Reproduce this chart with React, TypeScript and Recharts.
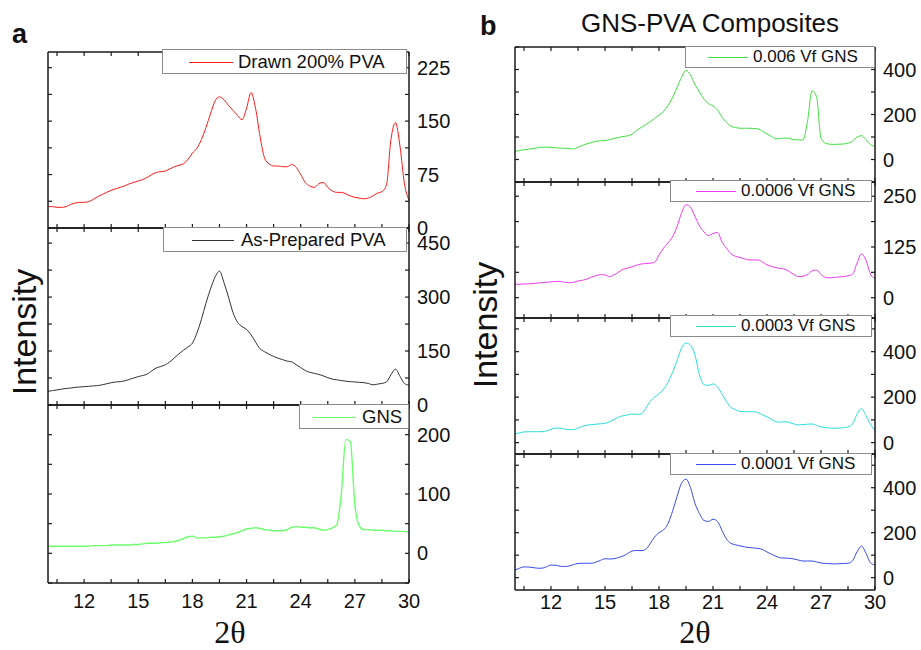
import React from 'react';
import { LineChart, Line, XAxis, YAxis, Legend } from 'recharts';

const FONT = '"Liberation Sans", Arial, Helvetica, sans-serif';
const SERIF = '"Liberation Serif", "Times New Roman", serif';

// 2θ sampling grid (degrees)
const twoTheta = [
  10, 10.25, 10.5, 10.75, 11, 11.25, 11.5, 11.75, 12, 12.25,
  12.5, 12.75, 13, 13.25, 13.5, 13.75, 14, 14.25, 14.5, 14.75,
  15, 15.25, 15.5, 15.75, 16, 16.25, 16.5, 16.75, 17, 17.25,
  17.5, 17.75, 18, 18.25, 18.5, 18.75, 19, 19.25, 19.5, 19.75,
  20, 20.25, 20.5, 20.75, 21, 21.25, 21.5, 21.75, 22, 22.25,
  22.5, 22.75, 23, 23.25, 23.5, 23.75, 24, 24.25, 24.5, 24.75,
  25, 25.25, 25.5, 25.75, 26, 26.25, 26.5, 26.75, 27, 27.25,
  27.5, 27.75, 28, 28.25, 28.5, 28.75, 29, 29.25, 29.5, 29.75,
  30,
];

// Panel a series
const drawn200 = [
  30, 30, 29, 29, 30, 33, 35, 36, 36, 37,
  40, 44, 47, 50, 53, 55, 57, 59, 62, 64,
  66, 68, 71, 75, 78, 79, 80, 83, 86, 88,
  90, 96, 105, 112, 124, 141, 160, 178, 184, 180,
  172, 165, 158, 152, 168, 190, 168, 128, 98, 90,
  87, 87, 86, 86, 89, 85, 75, 64, 59, 57,
  62, 64, 57, 52, 50, 50, 48, 45, 43, 42,
  41, 42, 45, 49, 51, 60, 124, 148, 115, 62,
  39,
];
const asPrepared = [
  38, 40, 42, 44, 46, 47, 49, 50, 51, 52,
  53, 54, 56, 59, 62, 64, 65, 67, 71, 75,
  79, 82, 86, 95, 103, 107, 112, 120, 131, 142,
  152, 161, 172, 200, 238, 283, 322, 355, 372, 340,
  300, 257, 230, 218, 210, 195, 175, 156, 148, 141,
  135, 130, 126, 122, 120, 112, 104, 96, 91, 88,
  85, 81, 76, 72, 70, 68, 66, 65, 64, 63,
  62, 60, 56, 58, 60, 64, 84, 100, 80, 60,
  55,
];
const gns = [
  12, 12, 12, 12, 12, 12, 12, 12, 12, 12,
  13, 13, 13, 13, 14, 14, 14, 14, 14, 15,
  15, 16, 17, 17, 17, 18, 18, 19, 20, 22,
  25, 28, 29, 26, 26, 26, 27, 27, 28, 29,
  31, 33, 35, 38, 41, 42, 43, 42, 40, 39,
  38, 38, 38, 40, 44, 45, 44, 44, 43, 43,
  41, 39, 40, 43, 48, 100, 192, 188, 82, 46,
  40, 40, 39, 39, 39, 38, 38, 37, 37, 37,
  35,
];

// Panel b series
const vf0006 = [
  36, 40, 43, 46, 49, 52, 55, 55, 54, 52,
  51, 50, 49, 47, 54, 63, 70, 76, 81, 83,
  84, 88, 93, 98, 102, 105, 112, 129, 142, 155,
  167, 182, 197, 214, 240, 274, 320, 365, 396, 375,
  333, 300, 268, 248, 238, 220, 188, 165, 148, 142,
  139, 139, 139, 138, 136, 125, 114, 102, 92, 93,
  96, 93, 88, 87, 87, 170, 305, 280, 95, 72,
  68, 67, 68, 69, 72, 82, 100, 106, 88, 66,
  59,
];
const vf00006 = [
  33, 33, 34, 34, 35, 36, 37, 38, 39, 40,
  40, 38, 37, 38, 41, 43, 46, 51, 54, 57,
  56, 52, 56, 63, 70, 73, 76, 80, 83, 84,
  85, 87, 105, 122, 135, 150, 175, 208, 229, 223,
  200, 177, 162, 153, 158, 161, 137, 122, 108, 102,
  99, 96, 93, 93, 93, 88, 81, 77, 74, 72,
  70, 64, 57, 52, 53, 57, 66, 68, 57, 50,
  49, 50, 51, 52, 54, 58, 85, 108, 92, 58,
  47,
];
const vf00003 = [
  38, 43, 47, 48, 48, 48, 48, 52, 58, 64,
  64, 60, 57, 57, 64, 72, 77, 79, 81, 83,
  85, 92, 102, 112, 118, 122, 126, 124, 125, 150,
  180, 200, 215, 235, 265, 308, 360, 415, 438, 428,
  385, 298, 255, 252, 258, 245, 213, 180, 155, 145,
  137, 136, 136, 136, 132, 122, 113, 102, 92, 90,
  92, 88, 82, 78, 79, 81, 82, 76, 69, 66,
  64, 63, 64, 66, 69, 82, 125, 150, 118, 80,
  52,
];
const vf00001 = [
  34, 42, 48, 47, 45, 42, 42, 48, 56, 55,
  51, 49, 52, 58, 63, 64, 64, 64, 69, 77,
  84, 83, 84, 90, 96, 107, 118, 121, 120, 125,
  150, 180, 200, 212, 240, 295, 360, 420, 438, 400,
  330, 285, 254, 250, 260, 250, 210, 172, 152, 146,
  141, 137, 134, 132, 130, 125, 114, 104, 95, 88,
  87, 86, 83, 78, 74, 74, 74, 70, 65, 63,
  62, 61, 62, 63, 64, 75, 115, 140, 108, 66,
  56,
];

// Tick values
const xTicks = [10.5, 12, 13.5, 15, 16.5, 18, 19.5, 21, 22.5, 24, 25.5, 27, 28.5, 30];
const xTickLabels = [12, 15, 18, 21, 24, 27, 30];

const yTicksDrawn = [0, 37.5, 75, 112.5, 150, 187.5, 225];
const yLabelsDrawn = [0, 75, 150, 225];
const yTicksAsPrep = [0, 75, 150, 225, 300, 375, 450];
const yLabelsAsPrep = [0, 150, 300, 450];
const yTicksGns = [-50, 0, 50, 100, 150, 200, 250];
const yLabelsGns = [0, 100, 200];
const yTicksB1 = [-100, 0, 100, 200, 300, 400, 500];
const yLabelsB1 = [0, 200, 400];
const yTicksB2 = [0, 62.5, 125, 187.5, 250];
const yLabelsB2 = [0, 125, 250];
const yTicksB34 = [0, 100, 200, 300, 400, 500];
const yLabelsB34 = [0, 200, 400];

type LegendCfg = { x: number; y: number; w: number; h: number; lx: number; ll: number; gap: number; fs: number };
type Sub = {
  name: string;
  color: string;
  width: number;
  values: number[];
  domain: [number, number];
  ticks: number[];
  labels: number[];
  top: number;
  bottom: number;
  legend: LegendCfg;
};
type Panel = { left: number; width: number; plotLeft: number; plotRight: number; xLabelDy: number; subs: Sub[] };

const panelA: Panel = {
  left: 0,
  width: 460,
  plotLeft: 48,
  plotRight: 409,
  xLabelDy: 25,
  subs: [
    { name: 'Drawn 200% PVA', color: '#ff1a1a', width: 1, values: drawn200, domain: [0, 247], ticks: yTicksDrawn, labels: yLabelsDrawn, top: 52, bottom: 228,
      legend: { x: 162, y: 49, w: 245, h: 25, lx: 26, ll: 44, gap: 5, fs: 18.5 } },
    { name: 'As-Prepared PVA', color: '#333333', width: 1, values: asPrepared, domain: [0, 492], ticks: yTicksAsPrep, labels: yLabelsAsPrep, top: 228, bottom: 405,
      legend: { x: 163, y: 227, w: 244, h: 25, lx: 28, ll: 42, gap: 7, fs: 18.5 } },
    { name: 'GNS', color: '#6cff6c', width: 1.4, values: gns, domain: [-50, 250], ticks: yTicksGns, labels: yLabelsGns, top: 405, bottom: 583,
      legend: { x: 299, y: 404, w: 110, h: 25, lx: 13, ll: 43, gap: 6, fs: 18.5 } },
  ],
};

const panelB: Panel = {
  left: 470,
  width: 451,
  plotLeft: 515,
  plotRight: 875,
  xLabelDy: 19,
  subs: [
    { name: '0.006 Vf GNS', color: '#3ee03e', width: 1, values: vf0006, domain: [-100, 500], ticks: yTicksB1, labels: yLabelsB1, top: 47, bottom: 182,
      legend: { x: 685, y: 46, w: 190, h: 22, lx: 22, ll: 40, gap: 5, fs: 17 } },
    { name: '0.0006 Vf GNS', color: '#ee3aee', width: 1, values: vf00006, domain: [-50, 285], ticks: yTicksB2, labels: yLabelsB2, top: 182, bottom: 318,
      legend: { x: 670, y: 180, w: 202, h: 22, lx: 25, ll: 40, gap: 5, fs: 17 } },
    { name: '0.0003 Vf GNS', color: '#2adede', width: 1, values: vf00003, domain: [-50, 548], ticks: yTicksB34, labels: yLabelsB34, top: 318, bottom: 454,
      legend: { x: 670, y: 315, w: 202, h: 22, lx: 25, ll: 40, gap: 5, fs: 17 } },
    { name: '0.0001 Vf GNS', color: '#3a4cee', width: 1, values: vf00001, domain: [-55, 550], ticks: yTicksB34, labels: yLabelsB34, top: 454, bottom: 590,
      legend: { x: 670, y: 453, w: 202, h: 22, lx: 25, ll: 40, gap: 5, fs: 17 } },
  ],
};

const PAD = 14;
const XLABEL_SPACE = 34;
const TICK_LEN = 4;
const INK = '#1a1a1a';
const AXIS_STYLE = { stroke: INK, strokeWidth: 1.5 };
const TICK_FS = 20;

const makeLegend = (cfg: LegendCfg) => (props: any) => {
  const item = props && props.payload && props.payload[0];
  const color = item ? item.color : '#000';
  const label = item ? item.value : '';
  return (
    <div
      style={{
        boxSizing: 'border-box',
        width: cfg.w,
        height: cfg.h,
        border: '1px solid #8c8c8c',
        background: '#fff',
        position: 'relative',
        fontFamily: FONT,
        fontSize: cfg.fs,
        color: '#111',
      }}
    >
      <div style={{ position: 'absolute', left: cfg.lx, top: Math.round((cfg.h - 2) / 2), width: cfg.ll, height: 0, borderTop: `1px solid ${color}` }} />
      <span style={{ position: 'absolute', left: cfg.lx + cfg.ll + cfg.gap, top: 0, lineHeight: `${cfg.h - 2}px`, whiteSpace: 'nowrap' }}>{label}</span>
    </div>
  );
};

function SubChart({ panel, sub, last }: { panel: Panel; sub: Sub; last: boolean }) {
  const data = twoTheta.map((x, i) => ({ x, y: sub.values[i] }));
  const plotH = sub.bottom - sub.top;
  const extra = last ? XLABEL_SPACE : 0;
  const chartTop = sub.top - PAD;
  const height = plotH + 2 * PAD + extra;
  const plotL = panel.plotLeft - panel.left; // local coords
  const plotR = panel.plotRight - panel.left;
  const plotT = PAD;
  const plotB = PAD + plotH;
  const rightW = panel.width - plotR;
  const lg = sub.legend;

  const bottomTick = (p: any) => {
    const x = p.x;
    const v = p.payload ? p.payload.value : null;
    const show = last && xTickLabels.includes(v);
    return (
      <g>
        <line x1={x} x2={x} y1={plotB} y2={plotB - TICK_LEN} stroke={INK} strokeWidth={1.2} />
        {show ? (
          <text x={x} y={plotB + panel.xLabelDy} textAnchor="middle" fontFamily={FONT} fontSize={TICK_FS} fill="#111">{String(v)}</text>
        ) : null}
      </g>
    );
  };
  const topTick = (p: any) => (
    <line x1={p.x} x2={p.x} y1={plotT} y2={plotT + TICK_LEN} stroke={INK} strokeWidth={1.2} />
  );
  const rightTick = (p: any) => {
    const y = p.y;
    const v = p.payload ? p.payload.value : null;
    const show = sub.labels.includes(v);
    return (
      <g>
        <line x1={plotR} x2={plotR - TICK_LEN} y1={y} y2={y} stroke={INK} strokeWidth={1.2} />
        {show ? (
          <text x={plotR + 8} y={y + 7} textAnchor="start" fontFamily={FONT} fontSize={TICK_FS} fill="#111">{String(v)}</text>
        ) : null}
      </g>
    );
  };
  const leftTick = (p: any) => (
    <line x1={plotL} x2={plotL + TICK_LEN} y1={p.y} y2={p.y} stroke={INK} strokeWidth={1.2} />
  );

  return (
    <div style={{ position: 'absolute', left: panel.left, top: chartTop, width: panel.width, height }}>
      <LineChart width={panel.width} height={height} data={data} margin={{ top: PAD - 1, bottom: PAD - 1 + extra, left: plotL - 1, right: 0 }}>
        <XAxis xAxisId="b" type="number" dataKey="x" domain={[10, 30]} ticks={xTicks} allowDataOverflow orientation="bottom" height={1}
          tickLine={false} interval={0} tick={bottomTick} axisLine={AXIS_STYLE} />
        <XAxis xAxisId="t" type="number" dataKey="x" domain={[10, 30]} ticks={xTicks} allowDataOverflow orientation="top" height={1}
          tickLine={false} interval={0} tick={topTick} axisLine={AXIS_STYLE} />
        <YAxis yAxisId="r" type="number" orientation="right" width={rightW} domain={sub.domain} ticks={sub.ticks} allowDataOverflow
          tickLine={false} interval={0} tick={rightTick} axisLine={AXIS_STYLE} />
        <YAxis yAxisId="l" type="number" orientation="left" width={1} domain={sub.domain} ticks={sub.ticks} allowDataOverflow
          tickLine={false} interval={0} tick={leftTick} axisLine={AXIS_STYLE} />
        <Line xAxisId="b" yAxisId="r" type="monotone" dataKey="y" name={sub.name} stroke={sub.color} strokeWidth={sub.width}
          dot={false} activeDot={false} isAnimationActive={false} />
        <Legend
          layout="horizontal"
          verticalAlign="middle"
          align="center"
          content={makeLegend(lg)}
          wrapperStyle={{ left: lg.x - panel.left, top: lg.y - chartTop, width: lg.w, height: lg.h, right: 'auto', bottom: 'auto' }}
        />
      </LineChart>
    </div>
  );
}

export default function App() {
  return (
    <div style={{ position: 'absolute', left: 0, top: 0, width: 921, height: 650, background: '#fff', overflow: 'hidden' }}>
      {[panelA, panelB].map((p, pi) =>
        p.subs.map((s, si) => <SubChart key={`${pi}-${si}`} panel={p} sub={s} last={si === p.subs.length - 1} />)
      )}
      <svg width={921} height={650} style={{ position: 'absolute', left: 0, top: 0, pointerEvents: 'none' }}>
        <text x={12} y={42.5} fontFamily={FONT} fontWeight="bold" fontSize={27} fill="#111">a</text>
        <text x={480} y={35} fontFamily={FONT} fontWeight="bold" fontSize={27} fill="#111">b</text>
        <text x={710} y={32} fontFamily={FONT} fontSize={26} fill="#111" textAnchor="middle">GNS-PVA Composites</text>
        <text transform="translate(36,332) rotate(-90)" fontFamily={FONT} fontSize={34} fill="#111" textAnchor="middle">Intensity</text>
        <text transform="translate(497,325) rotate(-90)" fontFamily={FONT} fontSize={34} fill="#111" textAnchor="middle">Intensity</text>
        <text x={230} y={643} fontFamily={SERIF} fontSize={32} fill="#111" textAnchor="middle">2θ</text>
        <text x={695} y={643} fontFamily={SERIF} fontSize={32} fill="#111" textAnchor="middle">2θ</text>
      </svg>
    </div>
  );
}
